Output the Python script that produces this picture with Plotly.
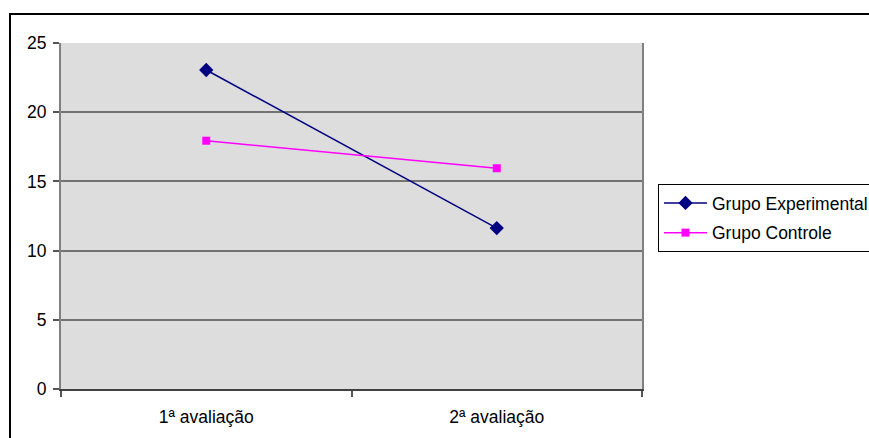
import plotly.graph_objects as go

categories = ["1ª avaliação", "2ª avaliação"]
grupo_experimental = [23.05, 11.63]
grupo_controle = [17.94, 15.95]
y_ticks = [0, 5, 10, 15, 20, 25]

W, H = 869, 438
L, R, T, B = 61, 642, 43, 389
pw, ph = R - L, B - T

def px_x(x):
    return (x - L) / pw

def px_y(y):
    return (B - y) / ph

FONT = "Liberation Sans, Arial, sans-serif"
fs = 17.5

fig = go.Figure()
fig.add_trace(go.Scatter(
    x=categories, y=grupo_experimental, name="Grupo Experimental",
    mode="lines+markers", legendgroup="a",
    line=dict(color="#000080", width=1.5),
    marker=dict(symbol="diamond", size=11, color="#000080"),
))
fig.add_trace(go.Scatter(
    x=categories, y=grupo_controle, name="Grupo Controle",
    mode="lines+markers", legendgroup="b",
    line=dict(color="#ff00ff", width=1.5),
    marker=dict(symbol="square", size=8, color="#ff00ff"),
))

fig.update_layout(
    width=W, height=H,
    margin=dict(l=L, r=W - R, t=T, b=H - B, pad=0, autoexpand=False),
    paper_bgcolor="white",
    plot_bgcolor="#dddddd",
    font=dict(family=FONT, size=fs, color="black"),
    showlegend=True,
    legend=dict(
        x=px_x(658), y=px_y(184), xanchor="left", yanchor="top",
        bgcolor="white", bordercolor="black", borderwidth=1,
        font=dict(family=FONT, size=fs, color="black"),
        traceorder="grouped", tracegroupgap=4, itemwidth=43,
    ),
    xaxis=dict(
        type="category", range=[-0.5, 1.5],
        tickson="boundaries", ticks="outside", ticklen=6, tickwidth=1.5,
        tickcolor="#555555",
        showgrid=False, showline=True, linecolor="#404040", linewidth=2,
        ticklabelstandoff=11,
        zeroline=False, fixedrange=True,
    ),
    yaxis=dict(
        range=[0, 25], tickvals=y_ticks, ticks="outside", ticklen=6,
        tickwidth=1.5, tickcolor="#555555",
        showgrid=True, gridcolor="#737373", gridwidth=2,
        showline=True, linecolor="#808080", linewidth=2, mirror=True,
        zeroline=False, ticklabelstandoff=3, fixedrange=True,
    ),
    shapes=[dict(
        type="rect", xref="paper", yref="paper",
        x0=px_x(10), x1=px_x(W + 20), y0=px_y(H + 20), y1=px_y(14),
        line=dict(color="black", width=2), fillcolor="rgba(0,0,0,0)",
        layer="above",
    )],
)

fig.write_html("out.html")
